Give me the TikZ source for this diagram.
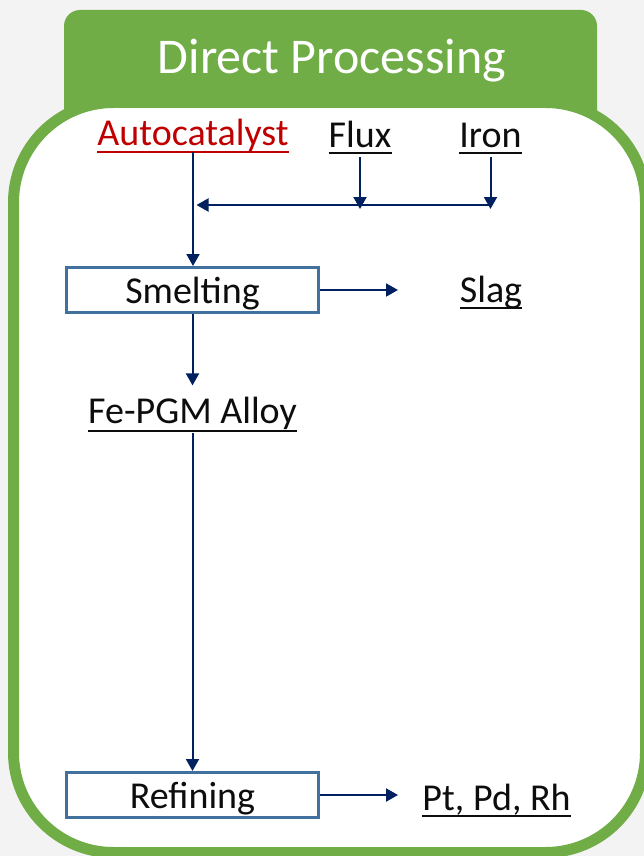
\documentclass[tikz,border=0pt]{standalone}
\usepackage{fontspec}
\setmainfont{Carlito}
\usetikzlibrary{arrows.meta,calc}
\definecolor{grn}{HTML}{70AD47}
\definecolor{navy}{HTML}{002060}
\definecolor{boxblue}{HTML}{41719C}
\definecolor{autored}{HTML}{C00000}
\definecolor{bggray}{HTML}{F3F3F3}
\definecolor{txt}{HTML}{0D0D0D}
\begin{document}
\begin{tikzpicture}[x=1pt,y=-1pt,
  lbl/.style={font=\fontsize{38}{46}\selectfont, text=txt, anchor=base, inner sep=0pt},
  procbox/.style={draw=boxblue, line width=3pt, fill=white, minimum width=252pt, minimum height=45pt,
    inner sep=0pt, text height=26pt, text depth=0pt, text=txt, font=\fontsize{38}{46}\selectfont},
  arr/.style={draw=navy, line width=2pt, -{Triangle[length=12pt,width=13pt]}},
  uline/.style={line width=2pt}]
\useasboundingbox (0,0) rectangle (644,856);
\clip (0,0) rectangle (644,856);
\fill[bggray] (0,0) rectangle (644,856);
% header tab
\fill[grn, rounded corners=16pt] (64,10) rectangle (597,130);
% main frame
\draw[grn, line width=11pt, fill=white, rounded corners=100pt] (13.5,102.5) rectangle (645.5,852.5);
% title
\node[font=\fontsize{50}{60}\selectfont, text=white, anchor=base, inner sep=0pt] (title) at (332,74) {Direct Processing};
% labels
\node[lbl, text=autored] (auto) at (193,146) {Autocatalyst};
\node[lbl] (flux) at (360,147) {Flux};
\node[lbl] (iron) at (490.5,147) {Iron};
\node[procbox] (smelt) at (192.5,290) {Smelting};
\node[lbl] (slag) at (491,302) {Slag};
\node[lbl] (alloy) at (192.5,423) {Fe-PGM Alloy};
\node[procbox] (refine) at (192.5,795) {Refining};
\node[lbl] (pt) at (496.5,810) {Pt, Pd, Rh};
% underlines
\draw[uline, autored] ([yshift=-6pt]auto.base west) -- ([yshift=-6pt]auto.base east);
\foreach \n in {flux,iron,slag,pt}
  \draw[uline, txt] ([yshift=-6pt]\n.base west) -- ([yshift=-6pt]\n.base east);
\draw[uline, txt] ([yshift=-8pt]alloy.base west) -- ([yshift=-8pt]alloy.base east);
% connectors
\coordinate (merge) at (192.5,205);
\draw[arr] (auto.south) -- (auto.south |- smelt.north);
\draw[arr] ([yshift=-10pt]flux.base) -- ([yshift=-4pt]flux.base |- merge);
\draw[arr] ([yshift=-10pt]iron.base) -- ([yshift=-4pt]iron.base |- merge);
\draw[arr] (iron.base |- merge) -- ([xshift=4pt]merge);
\draw[arr] (smelt.east) -- ($(smelt.east)+(78,0)$);
\draw[arr] (smelt.south) -- ([yshift=11pt]alloy.north);
\draw[arr] ([yshift=-10pt]alloy.base) -- (refine.north);
\draw[arr] (refine.east) -- ($(refine.east)+(78,0)$);
\end{tikzpicture}
\end{document}
